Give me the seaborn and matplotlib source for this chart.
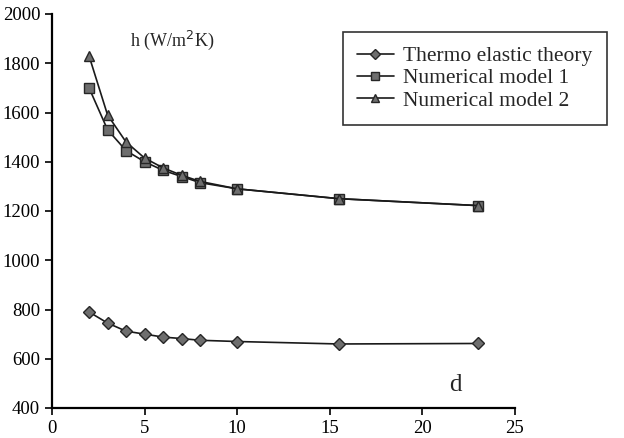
import matplotlib
matplotlib.use("Agg")
import matplotlib.pyplot as plt
import seaborn as sns
import pandas as pd

d_values = [2, 3, 4, 5, 6, 7, 8, 10, 15.5, 23]
thermo = [790, 745, 712, 700, 688, 682, 675, 670, 660, 662]
model1 = [1700, 1530, 1445, 1400, 1365, 1340, 1315, 1290, 1250, 1222]
model2 = [1830, 1590, 1480, 1415, 1375, 1345, 1320, 1290, 1250, 1222]
series_names = ["Thermo elastic theory", "Numerical model 1", "Numerical model 2"]
x_ticks = [0, 5, 10, 15, 20, 25]
y_ticks = [400, 600, 800, 1000, 1200, 1400, 1600, 1800, 2000]

df = pd.concat([
    pd.DataFrame({"d": d_values, "h": thermo, "series": series_names[0]}),
    pd.DataFrame({"d": d_values, "h": model1, "series": series_names[1]}),
    pd.DataFrame({"d": d_values, "h": model2, "series": series_names[2]}),
])

sns.set_style("ticks")
plt.rcParams["font.family"] = ["Liberation Serif", "DejaVu Serif"]

fig = plt.figure(figsize=(6.24, 4.38), dpi=100)
ax = fig.add_axes([52/624, 1 - 408/438, (515 - 52)/624, (408 - 14)/438])

markers = {series_names[0]: "D", series_names[1]: "s", series_names[2]: "^"}
sizes = {series_names[0]: 6, series_names[1]: 7.5, series_names[2]: 7.5}
for name in series_names:
    sub = df[df["series"] == name]
    sns.lineplot(data=sub, x="d", y="h", ax=ax, color="#1a1a1a", linewidth=1.2,
                 marker=markers[name], markersize=sizes[name],
                 markerfacecolor="#6e6e6e", markeredgecolor="#262626",
                 markeredgewidth=1.0, label=name, zorder=3)

ax.set_xlim(0, 25)
ax.set_ylim(400, 2000)
ax.set_xticks(x_ticks)
ax.set_yticks(y_ticks)
ax.set_xlabel("")
ax.set_ylabel("")
ax.tick_params(labelsize=13.5, direction="out", length=5, width=1.2, colors="black")
for s in ["top", "right"]:
    ax.spines[s].set_visible(False)
for s in ["left", "bottom"]:
    ax.spines[s].set_linewidth(1.6)
    ax.spines[s].set_color("black")

ax.text(4.2, 1894, "h (W/m$^2$K)", fontsize=13, ha="left", va="center")
ax.text(21.76, 495, "d", fontsize=18, ha="center", va="center")

leg = ax.legend(loc="upper left", bbox_to_anchor=((343 - 52)/463, 1 - (32 - 14)/394),
                borderaxespad=0,
                frameon=True, fancybox=False, fontsize=15.5, handlelength=1.7,
                borderpad=0.65, labelspacing=0.1, handletextpad=0.45, markerscale=0.85)
leg.get_frame().set_edgecolor("black")
leg.get_frame().set_linewidth(1.2)

fig.savefig("out.png", dpi=100)
